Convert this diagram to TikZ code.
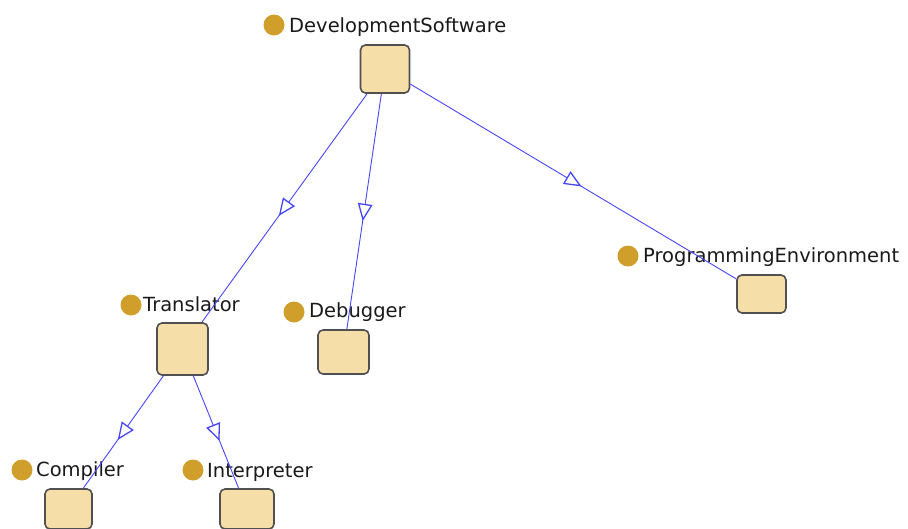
\documentclass[tikz,border=0pt]{standalone}
\usepackage{fontspec}
\setmainfont{DejaVu Sans}
\usetikzlibrary{decorations.markings}
\definecolor{boxfill}{RGB}{245,222,168}
\definecolor{boxborder}{RGB}{80,80,80}
\definecolor{dotcol}{RGB}{208,158,42}
\definecolor{edgeblue}{RGB}{70,70,255}
\definecolor{labtext}{RGB}{25,25,25}
\tikzset{
  cls/.style={rectangle, rounded corners=5pt, draw=boxborder, line width=1.6pt, fill=boxfill, inner sep=0pt},
  dotmark/.style={circle, fill=dotcol, draw=none, minimum size=21pt, inner sep=0pt},
  lab/.style={anchor=base west, inner sep=0pt, text=labtext, font=\fontsize{19.5}{23}\selectfont},
  isa/.style={draw=edgeblue, line width=0.9pt, postaction={decorate},
    decoration={markings, mark=at position 0.5 with {\draw[edgeblue, line width=1.3pt, fill=white, line join=miter] (8pt,0pt) -- (-7pt,6.5pt) -- (-7pt,-6.5pt) -- cycle;}}}
}
\begin{document}
\begin{tikzpicture}[x=1pt,y=-1pt]
\useasboundingbox (0,0) rectangle (908,528);
\clip (0,0) rectangle (908,528);
% boxes
\node[cls, minimum width=49pt, minimum height=48pt] (ds) at (385,69) {};
\node[cls, minimum width=51pt, minimum height=52pt] (tr) at (182.5,349) {};
\node[cls, minimum width=51pt, minimum height=44pt] (db) at (343.5,352) {};
\node[cls, minimum width=49pt, minimum height=38pt] (pe) at (761.5,294) {};
\node[cls, minimum width=47pt, minimum height=40pt] (co) at (68.5,509) {};
\node[cls, minimum width=54pt, minimum height=40pt] (in) at (247,509) {};
% labels
\node[dotmark] (dsd) at (274,25) {};
\node[lab] (dsl) at (289,32) {DevelopmentSoftware};
\node[dotmark] (trd) at (131,305) {};
\node[lab] (trl) at (143,311) {Translator};
\node[dotmark] (dbd) at (294,312) {};
\node[lab] (dbl) at (309,317) {Debugger};
\node[dotmark] (ped) at (628,256) {};
\node[lab] (pel) at (643,262) {ProgrammingEnvironment};
\node[dotmark] (cod) at (22,470) {};
\node[lab] (col) at (36,476) {Compiler};
\node[dotmark] (ind) at (193,470) {};
\node[lab] (inl) at (207,477) {Interpreter};
% edges
\draw[isa] (ds) -- (tr);
\draw[isa] (ds) -- (db);
\draw[isa] (ds) -- (pe);
\draw[isa] (tr) -- (co);
\draw[isa] (tr) -- (in);
\end{tikzpicture}
\end{document}
